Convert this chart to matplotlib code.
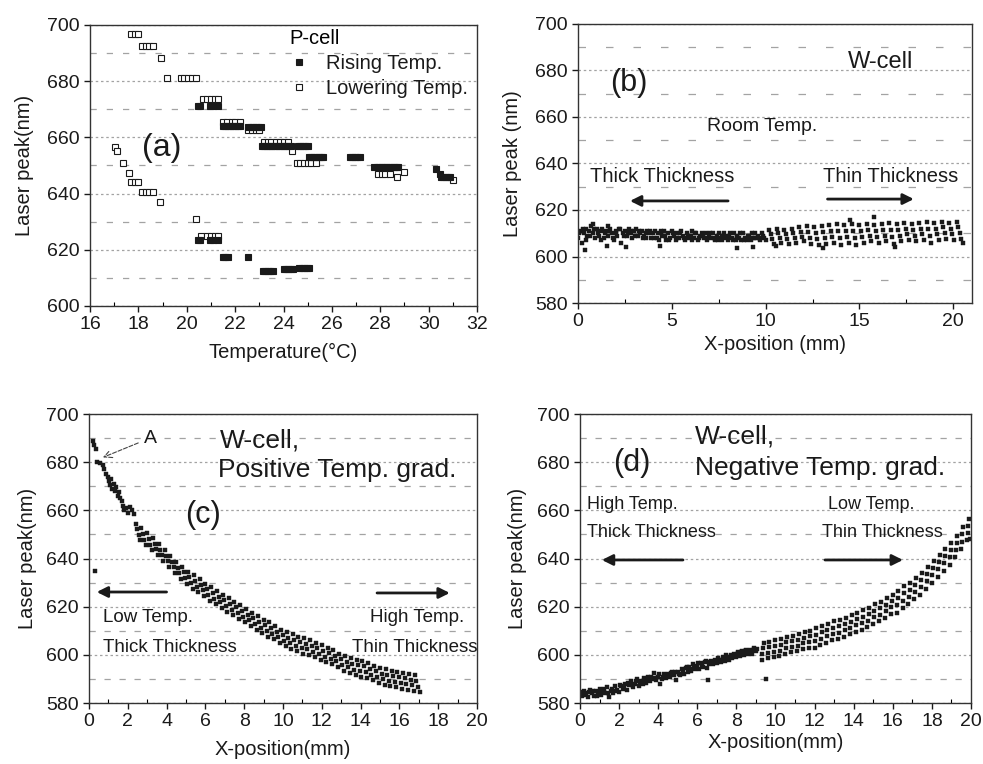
import matplotlib
matplotlib.use("Agg")
import matplotlib.pyplot as plt
from matplotlib.ticker import MultipleLocator

plt.rcParams['font.family'] = ['Liberation Sans', 'DejaVu Sans']

# ---- (a) P-cell, laser peak vs temperature ----
a_low_T = [17.05, 17.1, 17.35, 17.6, 17.7, 17.85, 18.0, 18.15, 18.3, 18.45, 18.6, 18.9,
           17.7, 17.85, 18.0, 18.15, 18.3, 18.45, 18.6, 18.95,
           19.2, 19.75, 19.9, 20.05, 20.2, 20.4, 20.4,
           20.65, 20.85, 21.0, 21.15, 21.3, 20.6, 20.85, 21.0, 21.15, 21.3,
           21.5, 21.65, 21.85, 22.0, 22.2, 22.55, 22.7, 22.85, 23.0,
           23.2, 23.35, 23.5, 23.7, 23.85, 24.0, 24.2, 24.35,
           24.55, 24.7, 24.85, 25.0, 25.15, 25.35,
           27.9, 28.05, 28.2, 28.4, 28.7, 29.0, 31.0]
a_low_nm = [656.5, 655, 651, 647.3, 644, 644, 644, 640.5, 640.5, 640.5, 640.5, 637,
            696.8, 696.8, 696.8, 692.5, 692.5, 692.5, 692.5, 688.3,
            681, 681, 681, 681, 681, 681, 630.8,
            673.5, 673.5, 673.5, 673.5, 673.5, 625, 625, 625, 625, 625,
            665.5, 665.5, 665.5, 665.5, 665.5, 662.5, 662.5, 662.5, 662.5,
            658.5, 658.5, 658.5, 658.5, 658.5, 658.5, 658.5, 655,
            651, 651, 651, 651, 651, 651,
            647, 647, 647, 647, 646, 647.6, 645]

a_rise_T = [20.45, 20.55, 20.95, 21.1, 21.3,
            20.45, 20.55, 20.95, 21.1, 21.3,
            21.5, 21.6, 21.7, 21.8, 21.9, 22.0, 22.1, 22.2,
            22.55, 22.65, 22.75, 22.85, 22.95, 23.05,
            23.1, 23.2, 23.3, 23.4, 23.5, 23.6, 23.7, 23.8, 23.9, 24.0, 24.1, 24.2, 24.3,
            24.6, 24.7, 24.8, 24.9, 25.0,
            25.05, 25.15, 25.25, 25.35, 25.45, 25.55, 25.65,
            26.75, 26.85, 26.95, 27.05, 27.15,
            27.75, 27.85, 27.95, 28.05, 28.15, 28.25, 28.35, 28.45, 28.55, 28.65, 28.75,
            30.3, 30.45, 30.5, 30.6, 30.7, 30.8, 30.9,
            21.5, 21.6, 21.7, 22.55,
            23.15, 23.25, 23.35, 23.45, 23.55,
            24.0, 24.1, 24.2, 24.3, 24.4,
            24.65, 24.75, 24.85, 24.95, 25.05]
a_rise_nm = [671, 671, 671, 671, 671,
             623.5, 623.5, 623.5, 623.5, 623.5,
             664, 664, 664, 664, 664, 664, 664, 664,
             663.8, 663.8, 663.8, 663.8, 663.8, 663.8,
             657, 657, 657, 657, 657, 657, 657, 657, 657, 657, 657, 657, 657,
             657, 657, 657, 657, 657,
             653, 653, 653, 653, 653, 653, 653,
             653, 653, 653, 653, 653,
             649.5, 649.5, 649.5, 649.5, 649.5, 649.5, 649.5, 649.5, 649.5, 649.5, 649.5,
             648.6, 647, 646, 646, 646, 646, 646,
             617.5, 617.5, 617.5, 617.5,
             612.3, 612.3, 612.3, 612.3, 612.3,
             613, 613, 613, 613, 613,
             613.6, 613.6, 613.6, 613.6, 613.6]

# ---- (b) W-cell, room temperature ----
b_dense_x = [0.0, 0.1, 0.2, 0.3, 0.4, 0.5, 0.6, 0.7, 0.8, 0.9,
             1.0, 1.1, 1.2, 1.3, 1.4, 1.5, 1.6, 1.7, 1.8, 1.9,
             2.0, 2.1, 2.2, 2.3, 2.4, 2.5, 2.6, 2.7, 2.8, 2.9,
             3.0, 3.1, 3.2, 3.3, 3.4, 3.5, 3.6, 3.7, 3.8, 3.9,
             4.0, 4.1, 4.2, 4.3, 4.4, 4.5, 4.6, 4.7, 4.8, 4.9,
             5.0, 5.1, 5.2, 5.3, 5.4, 5.5, 5.6, 5.7, 5.8, 5.9,
             6.0, 6.1, 6.2, 6.3, 6.4, 6.5, 6.6, 6.7, 6.8, 6.9,
             7.0, 7.1, 7.2, 7.3, 7.4, 7.5, 7.6, 7.7, 7.8, 7.9,
             8.0, 8.1, 8.2, 8.3, 8.4, 8.5, 8.6, 8.7, 8.8, 8.9,
             9.0, 9.1, 9.2, 9.3, 9.4, 9.5, 9.6, 9.7, 9.8, 9.9, 10.0]
b_dense_y = [608, 611, 606, 610, 612, 609, 611, 613, 610, 608,
             612, 609, 611, 612, 608, 611, 609, 612, 610, 607,
             611, 609, 612, 606, 610, 611, 609, 612, 610, 608,
             611, 612, 609, 610, 611, 609, 608, 611, 610, 608,
             610, 611, 608, 607, 610, 609, 611, 607, 610, 608,
             611, 609, 607, 610, 608, 611, 609, 607, 610, 608,
             609, 611, 608, 610, 607, 609, 610, 608, 610, 607,
             609, 608, 610, 607, 609, 610, 608, 607, 610, 609,
             607, 610, 608, 610, 607, 609, 608, 607, 610, 608,
             607, 609, 607, 610, 608, 608, 609, 607, 610, 608, 607]
b_fill_x = [0.05, 0.25, 0.45, 0.65, 0.85, 1.05, 1.25, 1.45, 1.65, 1.85,
            2.05, 2.25, 2.45, 2.65, 2.85, 3.05, 3.25, 3.45, 3.65, 3.85,
            4.05, 4.25, 4.45, 4.65, 4.85, 5.05, 5.25, 5.45, 5.65, 5.85,
            6.05, 6.25, 6.45, 6.65, 6.85, 7.05, 7.25, 7.45, 7.65, 7.85,
            8.05, 8.25, 8.45, 8.65, 8.85, 9.05, 9.25, 9.45, 9.65, 9.85]
b_fill_y = [610, 612, 607, 609, 612, 610, 607, 610, 611, 608,
            610, 612, 609, 610, 611, 609, 611, 608, 610, 611,
            608, 610, 611, 609, 607, 610, 608, 610, 608, 609,
            607, 610, 608, 609, 608, 610, 608, 607, 609, 608,
            609, 607, 609, 610, 607, 609, 608, 610, 608, 609]
b_streak_x = [10.2, 10.28, 10.36, 10.44, 10.6, 10.68, 10.76, 10.84,
              11.0, 11.08, 11.16, 11.24, 11.4, 11.48, 11.56, 11.64,
              11.8, 11.88, 11.96, 12.04, 12.2, 12.28, 12.36, 12.44,
              12.6, 12.68, 12.76, 12.84, 13.0, 13.08, 13.16, 13.24,
              13.4, 13.48, 13.56, 13.64, 13.8, 13.88, 13.96, 14.04,
              14.2, 14.28, 14.36, 14.44, 14.6, 14.68, 14.76, 14.84,
              15.0, 15.08, 15.16, 15.24, 15.4, 15.48, 15.56, 15.64,
              15.8, 15.88, 15.96, 16.04, 16.2, 16.28, 16.36, 16.44,
              16.6, 16.68, 16.76, 16.84, 17.0, 17.08, 17.16, 17.24,
              17.4, 17.48, 17.56, 17.64, 17.8, 17.88, 17.96, 18.04,
              18.2, 18.28, 18.36, 18.44, 18.6, 18.68, 18.76, 18.84,
              19.0, 19.08, 19.16, 19.24, 19.4, 19.48, 19.56, 19.64,
              19.8, 19.88, 19.96, 20.04, 20.2, 20.28, 20.36, 20.44]
b_streak_y = [611.5, 609.5, 607.5, 605.5, 612, 610, 608, 606,
              611.5, 609.5, 607.5, 605.5, 612, 610, 608, 606,
              612.5, 610.5, 608.5, 606.5, 613, 610.5, 608, 605.5,
              612.5, 610, 607.5, 605, 613, 610.5, 608, 605.5,
              613.5, 611, 608.5, 606, 614, 611, 608, 605,
              613.5, 611, 608.5, 606, 614, 611, 608, 605,
              613.5, 611, 608.5, 606, 614, 611.5, 609, 606.5,
              613.5, 611, 608.5, 606, 614, 611.5, 609, 606.5,
              614.5, 611.5, 608.5, 605.5, 614, 611.5, 609, 606.5,
              614.5, 612, 609.5, 607, 614, 611.5, 609, 606.5,
              614.5, 612, 609.5, 607, 615, 612, 609, 606,
              614.5, 612, 609.5, 607, 615, 612.5, 610, 607.5,
              614.5, 612, 609.5, 607, 615, 612.5, 610, 607.5]
b_stray_x = [0.37, 1.53, 2.54, 4.37, 8.45, 9.33, 10.58, 13.07, 16.9, 15.8, 14.5, 20.5, 0.8, 1.6]
b_stray_y = [602.8, 604.5, 604.3, 604.5, 603.5, 604, 604.6, 603.5, 604, 617, 615.7, 606, 613.8, 613.3]

# ---- (c) W-cell, positive temperature gradient ----
c_head_x = [0.2, 0.25, 0.35, 0.4, 0.55, 0.7, 0.8, 0.9, 1.0, 1.05, 1.1, 1.15, 1.2, 1.3,
            1.35, 1.4, 1.5, 1.55, 1.6, 1.7, 1.75, 1.8, 1.9, 2.0, 2.1, 2.2, 2.3, 0.3]
c_head_y = [689, 687, 685.5, 680, 679.5, 679, 677, 675, 674, 672, 670.5, 673, 669, 671,
            668, 669.5, 666, 667.5, 665, 664, 662, 660, 661, 659, 661.5, 660, 658.5, 635]
c_streak_x = [2.4, 2.48, 2.56, 2.64, 2.7, 2.78, 2.86, 2.94, 3.0, 3.08, 3.16, 3.24,
              3.3, 3.38, 3.46, 3.54, 3.6, 3.68, 3.76, 3.84, 3.9, 3.98, 4.06, 4.14,
              4.2, 4.28, 4.36, 4.44, 4.5, 4.58, 4.66, 4.74, 4.8, 4.88, 4.96, 5.04,
              5.1, 5.18, 5.26, 5.34, 5.4, 5.48, 5.56, 5.64, 5.7, 5.78, 5.86, 5.94,
              6.0, 6.08, 6.16, 6.24, 6.3, 6.38, 6.46, 6.54, 6.6, 6.68, 6.76, 6.84,
              6.9, 6.98, 7.06, 7.14, 7.2, 7.28, 7.36, 7.44, 7.5, 7.58, 7.66, 7.74,
              7.8, 7.88, 7.96, 8.04, 8.1, 8.18, 8.26, 8.34, 8.4, 8.48, 8.56, 8.64,
              8.7, 8.78, 8.86, 8.94, 9.0, 9.08, 9.16, 9.24, 9.3, 9.38, 9.46, 9.54,
              9.6, 9.68, 9.76, 9.84, 9.9, 9.98, 10.06, 10.14, 10.2, 10.28, 10.36, 10.44,
              10.5, 10.58, 10.66, 10.74, 10.8, 10.88, 10.96, 11.04, 11.1, 11.18, 11.26, 11.34,
              11.4, 11.48, 11.56, 11.64, 11.7, 11.78, 11.86, 11.94, 12.0, 12.08, 12.16, 12.24,
              12.3, 12.38, 12.46, 12.54, 12.6, 12.68, 12.76, 12.84, 12.9, 12.98, 13.06, 13.14,
              13.2, 13.28, 13.36, 13.44, 13.5, 13.58, 13.66, 13.74, 13.8, 13.88, 13.96, 14.04,
              14.1, 14.18, 14.26, 14.34, 14.4, 14.48, 14.56, 14.64, 14.7, 14.78, 14.86, 14.94,
              15.0, 15.08, 15.16, 15.24, 15.3, 15.38, 15.46, 15.54, 15.6, 15.68, 15.76, 15.84,
              15.9, 15.98, 16.06, 16.14, 16.2, 16.28, 16.36, 16.44, 16.5, 16.58, 16.66, 16.74,
              16.8, 16.88, 16.96, 17.04]
c_streak_y = [654.5, 652.2, 649.8, 647.5, 652.5, 650.2, 647.8, 645.5, 650.5, 648.2, 645.8, 643.5,
              648.5, 646.2, 643.8, 641.5, 646, 643.7, 641.3, 639, 643.5, 641.2, 638.8, 636.5,
              641, 638.7, 636.3, 634, 638.5, 636.2, 633.8, 631.5, 636.5, 634.2, 631.8, 629.5,
              634.5, 632.2, 629.8, 627.5, 633, 630.7, 628.3, 626, 631.5, 629.2, 626.8, 624.5,
              629.5, 627.2, 624.8, 622.5, 628, 625.7, 623.3, 621, 626.5, 624.2, 621.8, 619.5,
              625, 622.7, 620.3, 618, 623.5, 621.2, 618.8, 616.5, 622, 619.7, 617.3, 615,
              620.5, 618.2, 615.8, 613.5, 619, 616.7, 614.3, 612, 617.5, 615.2, 612.8, 610.5,
              616, 613.7, 611.3, 609, 614.5, 612.2, 609.8, 607.5, 613.5, 611.2, 608.8, 606.5,
              612, 609.7, 607.3, 605, 610.5, 608.2, 605.8, 603.5, 609.5, 607.2, 604.8, 602.5,
              608.5, 606.2, 603.8, 601.5, 607.5, 605.2, 602.8, 600.5, 607, 604.7, 602.3, 600,
              606, 603.7, 601.3, 599, 605, 602.7, 600.3, 598, 604, 601.7, 599.3, 597,
              603, 600.7, 598.3, 596, 602, 599.7, 597.3, 595, 600.5, 598.2, 595.8, 593.5,
              599.5, 597.2, 594.8, 592.5, 598.5, 596.2, 593.8, 591.5, 598, 595.7, 593.3, 591,
              597.5, 595.2, 592.8, 590.5, 596.5, 594.2, 591.8, 589.5, 595.5, 593.2, 590.8, 588.5,
              594.5, 592.2, 589.8, 587.5, 594, 591.7, 589.3, 587, 593.5, 591.2, 588.8, 586.5,
              593, 590.7, 588.3, 586, 592.5, 590.2, 587.8, 585.5, 592, 589.7, 587.3, 585,
              591.5, 589.2, 586.8, 584.5]

# ---- (d) W-cell, negative temperature gradient ----
d_dense_x = [0.1, 0.2, 0.3, 0.4, 0.5, 0.6, 0.7, 0.8, 0.9, 1.0,
             1.1, 1.2, 1.3, 1.4, 1.5, 1.6, 1.7, 1.8, 1.9, 2.0,
             2.1, 2.2, 2.3, 2.4, 2.5, 2.6, 2.7, 2.8, 2.9, 3.0,
             3.1, 3.2, 3.3, 3.4, 3.5, 3.6, 3.7, 3.8, 3.9, 4.0,
             4.1, 4.2, 4.3, 4.4, 4.5, 4.6, 4.7, 4.8, 4.9, 5.0,
             5.1, 5.2, 5.3, 5.4, 5.5, 5.6, 5.7, 5.8, 5.9, 6.0,
             6.1, 6.2, 6.3, 6.4, 6.5, 6.6, 6.7, 6.8, 6.9, 7.0,
             7.1, 7.2, 7.3, 7.4, 7.5, 7.6, 7.7, 7.8, 7.9, 8.0,
             8.1, 8.2, 8.3, 8.4, 8.5, 8.6, 8.7, 8.8, 8.9, 9.0]
d_dense_y = [583, 585, 584, 582.5, 585.5, 584, 583, 585, 584, 586,
             583.5, 585, 584, 586.5, 582.5, 585, 584, 587, 585.5, 584.5,
             587, 586, 588, 585.5, 587.5, 589, 586.5, 588, 590, 587,
             589, 588, 590.5, 588.5, 591, 589, 590, 592.5, 589.5, 591,
             588, 590, 592, 590.5, 592, 591, 593, 591.5, 589.5, 593,
             591.5, 594, 592, 594.5, 593, 595, 593.5, 596, 594, 595.5,
             594, 596.5, 595, 597, 594.5, 596, 597.5, 596, 598, 596.5,
             598, 597, 599, 597.5, 599, 598, 600, 598.5, 600.5, 599,
             601, 599.5, 601.5, 600, 602, 600.5, 602, 600.5, 603, 601.5]
d_fill_x = [0.05, 0.25, 0.45, 0.65, 0.85, 1.05, 1.25, 1.45, 1.65, 1.85,
            2.05, 2.25, 2.45, 2.65, 2.85, 3.05, 3.25, 3.45, 3.65, 3.85,
            4.05, 4.25, 4.45, 4.65, 4.85, 5.05, 5.25, 5.45, 5.65, 5.85,
            6.05, 6.25, 6.45, 6.65, 6.85, 7.05, 7.25, 7.45, 7.65, 7.85,
            8.05, 8.25, 8.45, 8.65, 8.85, 9.05, 6.57, 9.51]
d_fill_y = [584.5, 583.5, 584.5, 585, 583, 584.5, 586, 584, 586, 585,
            587.5, 586.5, 588.5, 587.5, 589, 588.5, 589.5, 590, 591, 590.5,
            592, 591, 591.5, 592.5, 593, 592, 593, 595, 594, 595,
            596.5, 595.5, 597.5, 597, 597, 598.5, 598, 600, 599, 599.5,
            600.5, 601, 601.5, 601.5, 602, 602.5, 589.5, 589.8]
d_streak_x = [9.3, 9.33, 9.36, 9.39, 9.6, 9.63, 9.66, 9.69, 9.9, 9.93, 9.96, 9.99,
              10.2, 10.23, 10.26, 10.29, 10.5, 10.53, 10.56, 10.59, 10.8, 10.83, 10.86, 10.89,
              11.1, 11.13, 11.16, 11.19, 11.4, 11.43, 11.46, 11.49, 11.7, 11.73, 11.76, 11.79,
              12.0, 12.03, 12.06, 12.09, 12.3, 12.33, 12.36, 12.39, 12.6, 12.63, 12.66, 12.69,
              12.9, 12.93, 12.96, 12.99, 13.2, 13.23, 13.26, 13.29, 13.5, 13.53, 13.56, 13.59,
              13.8, 13.83, 13.86, 13.89, 14.1, 14.13, 14.16, 14.19, 14.4, 14.43, 14.46, 14.49,
              14.7, 14.73, 14.76, 14.79, 15.0, 15.03, 15.06, 15.09, 15.3, 15.33, 15.36, 15.39,
              15.6, 15.63, 15.66, 15.69, 15.9, 15.93, 15.96, 15.99, 16.2, 16.23, 16.26, 16.29,
              16.5, 16.53, 16.56, 16.59, 16.8, 16.83, 16.86, 16.89, 17.1, 17.13, 17.16, 17.19,
              17.4, 17.43, 17.46, 17.49, 17.7, 17.73, 17.76, 17.79, 18.0, 18.03, 18.06, 18.09,
              18.3, 18.33, 18.36, 18.39, 18.6, 18.63, 18.66, 18.69, 18.9, 18.93, 18.96, 18.99,
              19.2, 19.23, 19.26, 19.29, 19.5, 19.53, 19.56, 19.59, 19.8, 19.83, 19.86, 19.89,
              19.93]
d_streak_y = [598, 600.3, 602.7, 605, 598.5, 600.8, 603.2, 605.5, 599, 601.3, 603.7, 606,
              599.5, 601.8, 604.2, 606.5, 600.5, 602.8, 605.2, 607.5, 601, 603.3, 605.7, 608,
              601.5, 603.8, 606.2, 608.5, 602.5, 604.8, 607.2, 609.5, 603, 605.3, 607.7, 610,
              603, 605.7, 608.3, 611, 604, 606.7, 609.3, 612, 605, 607.7, 610.3, 613,
              606, 608.7, 611.3, 614, 606.5, 609.2, 611.8, 614.5, 607.5, 610.2, 612.8, 615.5,
              608.5, 611.2, 613.8, 616.5, 609.5, 612.2, 614.8, 617.5, 610.5, 613.2, 615.8, 618.5,
              611.5, 614.2, 616.8, 619.5, 613, 615.7, 618.3, 621, 614, 616.7, 619.3, 622,
              615.5, 618.2, 620.8, 623.5, 617, 619.7, 622.3, 625, 617.5, 620.5, 623.5, 626.5,
              619.5, 622.5, 625.5, 628.5, 621, 624, 627, 630, 623, 626, 629, 632,
              625, 628, 631, 634, 627.5, 630.5, 633.5, 636.5, 630, 633, 636, 639,
              632.5, 635.5, 638.5, 641.5, 635, 638, 641, 644, 637.5, 640.5, 643.5, 646.5,
              640.5, 643.5, 646.5, 649.5, 644, 647, 650, 653, 647.5, 650.5, 653.5, 656.5,
              648]

INK = '#1a1a1a'
GRID = '#a3a3a3'


def style_axes(ax, xlim, ylim, xmajor, xminor, ymajor, dash):
    ax.set_xlim(*xlim)
    ax.set_ylim(*ylim)
    ax.xaxis.set_major_locator(MultipleLocator(xmajor))
    ax.xaxis.set_minor_locator(MultipleLocator(xminor))
    ax.yaxis.set_major_locator(MultipleLocator(ymajor))
    ax.yaxis.set_minor_locator(MultipleLocator(10))
    ax.grid(True, axis='y', which='major', color=GRID, lw=0.9, ls=(0, (2, 2.2)))
    ax.grid(True, axis='y', which='minor', color=GRID, lw=0.9, ls=(0, dash))
    ax.tick_params(which='major', direction='out', length=4, width=1,
                   labelsize=14, colors=INK)
    ax.tick_params(axis='x', which='minor', direction='in', length=3, width=0.8)
    ax.tick_params(axis='y', which='minor', length=0)
    for sp in ax.spines.values():
        sp.set_linewidth(1.0)
        sp.set_color('#333333')
    ax.set_axisbelow(True)


def arrow(ax, tail, head):
    ax.annotate('', xy=head, xytext=tail,
                arrowprops=dict(arrowstyle='-|>', color=INK, lw=2.0,
                                mutation_scale=16, shrinkA=0, shrinkB=0))


def dots(ax, xs, ys):
    ax.plot(xs, ys, ls='none', marker='s', ms=3.2, mfc=INK, mec=INK, mew=0.3)


fig = plt.figure(figsize=(9.83, 7.64), dpi=100)
ax_a = fig.add_axes([0.0916, 0.5995, 0.3937, 0.3678])
ax_b = fig.add_axes([0.588, 0.6034, 0.4008, 0.3652])
ax_c = fig.add_axes([0.0905, 0.0798, 0.3947, 0.3783])
ax_d = fig.add_axes([0.590, 0.0798, 0.3978, 0.3783])

# (a)
style_axes(ax_a, (16, 32), (600, 700), 2, 1, 20, (5, 8))
low, = ax_a.plot(a_low_T, a_low_nm, ls='none', marker='s', ms=3.8,
                 mfc='white', mec=INK, mew=0.8, label='Lowering Temp.')
rise, = ax_a.plot(a_rise_T, a_rise_nm, ls='none', marker='s', ms=3.8,
                  mfc=INK, mec=INK, mew=0.8, label='Rising Temp.')
ax_a.legend(handles=[rise, low], title='P-cell', loc='upper left',
            bbox_to_anchor=(0.505, 1.0), frameon=False, fontsize=14.5,
            title_fontsize=14.5, handlelength=0.9, handletextpad=0.9,
            borderpad=0.2, borderaxespad=0.0, labelspacing=0.3,
            alignment='left', labelcolor=INK)
ax_a.text(18.15, 656.2, '(a)', fontsize=23, color=INK, ha='left', va='center')
ax_a.set_xlabel('Temperature(°C)', fontsize=14.5, color=INK, labelpad=7)
ax_a.set_ylabel('Laser peak(nm)', fontsize=14.5, color=INK, labelpad=9)

# (b)
style_axes(ax_b, (0, 21), (580, 700), 5, 2.5, 20, (6, 16))
dots(ax_b, b_dense_x, b_dense_y)
dots(ax_b, b_fill_x, b_fill_y)
dots(ax_b, b_streak_x, b_streak_y)
dots(ax_b, b_stray_x, b_stray_y)
ax_b.text(14.4, 683.7, 'W-cell', fontsize=17, color=INK, ha='left', va='center')
ax_b.text(1.7, 674.6, '(b)', fontsize=22, color=INK, ha='left', va='center')
ax_b.text(6.9, 656.1, 'Room Temp.', fontsize=14, color=INK, ha='left', va='center')
ax_b.text(0.64, 634.6, 'Thick Thickness', fontsize=14.5, color=INK, ha='left', va='center')
ax_b.text(13.05, 634.6, 'Thin Thickness', fontsize=14.5, color=INK, ha='left', va='center')
arrow(ax_b, (8.0, 623.9), (2.77, 623.9))
arrow(ax_b, (13.3, 624.7), (17.9, 624.7))
ax_b.set_xlabel('X-position (mm)', fontsize=14.5, color=INK, labelpad=3)
ax_b.set_ylabel('Laser peak (nm)', fontsize=14.5, color=INK, labelpad=9)

# (c)
style_axes(ax_c, (0, 20), (580, 700), 2, 1, 20, (5, 7))
dots(ax_c, c_head_x, c_head_y)
dots(ax_c, c_streak_x, c_streak_y)
ax_c.annotate('A', xy=(0.72, 682), xytext=(3.15, 690), fontsize=14, color=INK,
              ha='center', va='center',
              arrowprops=dict(arrowstyle='->', color='#444444', lw=0.8,
                              ls='--', shrinkA=2, shrinkB=0))
ax_c.text(6.75, 689.2, 'W-cell,', fontsize=19, color=INK, ha='left', va='center')
ax_c.text(6.65, 676.7, 'Positive Temp. grad.', fontsize=19, color=INK, ha='left', va='center')
ax_c.text(4.95, 658, '(c)', fontsize=22, color=INK, ha='left', va='center')
ax_c.text(0.73, 615.7, 'Low Temp.', fontsize=13.5, color=INK, ha='left', va='center')
ax_c.text(0.73, 603.2, 'Thick Thickness', fontsize=13.5, color=INK, ha='left', va='center')
ax_c.text(14.5, 615.7, 'High Temp.', fontsize=13.5, color=INK, ha='left', va='center')
ax_c.text(13.55, 603.2, 'Thin Thickness', fontsize=13.5, color=INK, ha='left', va='center')
arrow(ax_c, (4.0, 626.1), (0.4, 626.1))
arrow(ax_c, (14.85, 625.7), (18.6, 625.7))
ax_c.set_xlabel('X-position(mm)', fontsize=14.5, color=INK, labelpad=7)
ax_c.set_ylabel('Laser peak(nm)', fontsize=14.5, color=INK, labelpad=6)

# (d)
style_axes(ax_d, (0, 20), (580, 700), 2, 1, 20, (5, 7))
dots(ax_d, d_dense_x, d_dense_y)
dots(ax_d, d_fill_x, d_fill_y)
dots(ax_d, d_streak_x, d_streak_y)
ax_d.text(5.88, 690.6, 'W-cell,', fontsize=19, color=INK, ha='left', va='center')
ax_d.text(5.88, 677.6, 'Negative Temp. grad.', fontsize=19, color=INK, ha='left', va='center')
ax_d.text(1.69, 679.6, '(d)', fontsize=22, color=INK, ha='left', va='center')
ax_d.text(0.36, 662.6, 'High Temp.', fontsize=13, color=INK, ha='left', va='center')
ax_d.text(0.36, 651, 'Thick Thickness', fontsize=13, color=INK, ha='left', va='center')
ax_d.text(12.7, 662.6, 'Low Temp.', fontsize=13, color=INK, ha='left', va='center')
ax_d.text(12.4, 651, 'Thin Thickness', fontsize=13, color=INK, ha='left', va='center')
arrow(ax_d, (5.27, 639.4), (1.12, 639.4))
arrow(ax_d, (12.53, 639.4), (16.52, 639.4))
ax_d.set_xlabel('X-position(mm)', fontsize=14.5, color=INK, labelpad=2)
ax_d.set_ylabel('Laser peak(nm)', fontsize=14.5, color=INK, labelpad=7)

fig.savefig('out.png', dpi=100)
